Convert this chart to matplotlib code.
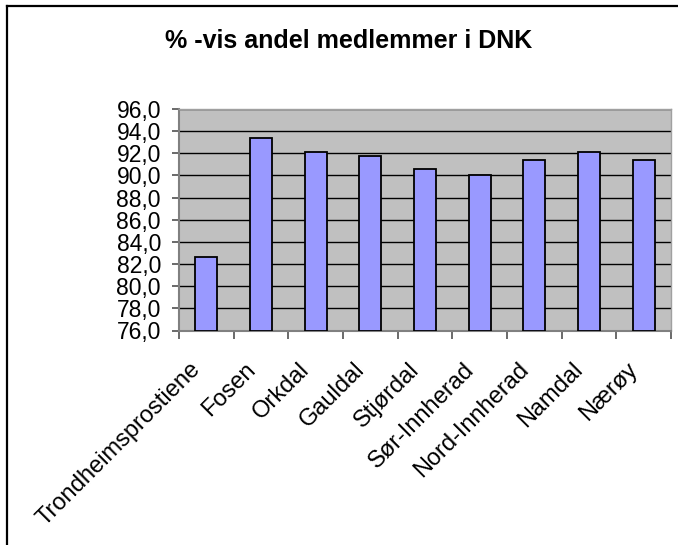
import matplotlib.pyplot as plt
import numpy as np
from matplotlib.lines import Line2D
from matplotlib.transforms import ScaledTranslation

plt.rcParams['font.family'] = ['Liberation Sans', 'DejaVu Sans']

# data
regions = ["Trondheimsprostiene", "Fosen", "Orkdal", "Gauldal", "Stjørdal",
           "Sør-Innherad", "Nord-Innherad", "Namdal", "Nærøy"]
share = [82.6, 93.4, 92.1, 91.8, 90.6, 90.0, 91.4, 92.1, 91.4]
y_ticks = np.arange(76, 97, 2)

fig = plt.figure(figsize=(6.78, 5.45), dpi=100)
ax = fig.add_axes([179 / 678, 1 - 330.5 / 545, 492 / 678, 221.5 / 545])

x = np.arange(len(regions))
ax.set_facecolor("#C0C0C0")
ax.bar(x, np.array(share) - 76, bottom=76, width=0.4, color="#9999FF",
       edgecolor="black", linewidth=1.3, zorder=3)

ax.set_xlim(-0.5, len(regions) - 0.5)
ax.set_ylim(76, 96)
ax.set_yticks(y_ticks)
ax.set_yticklabels([f"{v:.1f}".replace(".", ",") for v in y_ticks], fontsize=16.5)
ax.yaxis.grid(True, color="black", linewidth=1.0, zorder=1)
ax.set_axisbelow(True)

# category boundaries carry the ticks, labels sit at the bar centres
ax.set_xticks(np.arange(-0.5, len(regions)), minor=False)
ax.set_xticklabels([])
ax.set_xticks(x, minor=True)
ax.set_xticklabels(regions, minor=True, rotation=45, ha="right", va="top",
                   rotation_mode="anchor", fontsize=17)
ax.tick_params(axis="x", which="minor", length=0, pad=20)
ax.tick_params(axis="x", which="major", length=5.5, width=1.2, direction="out", color="#505050")
ax.tick_params(axis="y", length=5, width=1.2, direction="out", color="#505050", pad=8)
off = ScaledTranslation(-17 / 100, 0, fig.dpi_scale_trans)
for lbl in ax.get_xticklabels(minor=True):
    lbl.set_transform(lbl.get_transform() + off)

for side in ["left", "bottom"]:
    ax.spines[side].set_color("#808080")
    ax.spines[side].set_linewidth(1.5)
for side in ["top", "right"]:
    ax.spines[side].set_color("#A0A0A0")
    ax.spines[side].set_linewidth(1.0)

fig.text(165 / 678, 1 - 48.5 / 545, "% -vis andel medlemmer i DNK", ha="left",
         va="baseline", fontsize=18, fontweight="bold")

# outer chart border (only left and top edges are inside the picture)
fig.add_artist(Line2D([7 / 678, 7 / 678], [0, 1 - 6 / 545], color="black", linewidth=1.6))
fig.add_artist(Line2D([7 / 678, 1], [1 - 6 / 545, 1 - 6 / 545], color="black", linewidth=1.6))

fig.savefig("out.png", dpi=100)
